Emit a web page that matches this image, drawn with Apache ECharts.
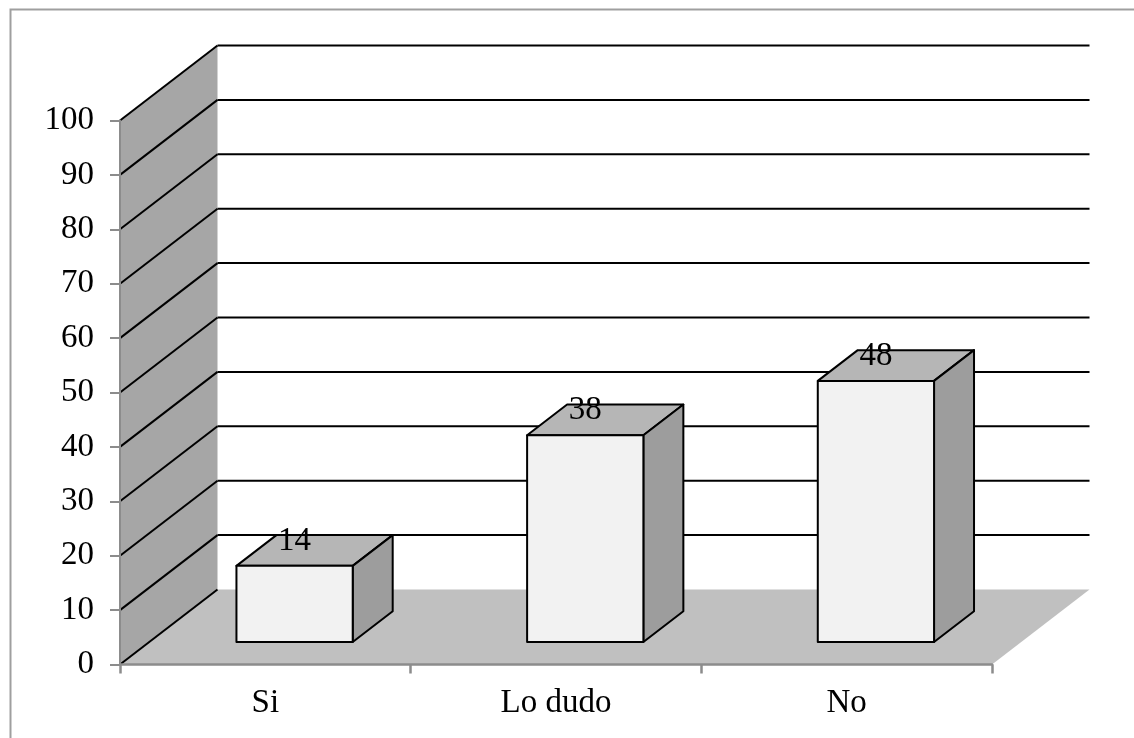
<!DOCTYPE html>
<html>
<head>
<meta charset="utf-8">
<script src="https://cdn.jsdelivr.net/npm/echarts@6/dist/echarts.min.js"></script>
<style>
  html, body { margin: 0; padding: 0; background: #ffffff; }
  #chart { width: 1134px; height: 738px; }
</style>
</head>
<body>
<div id="chart"></div>
<script>
// Survey answers and their percentages
const categories = ['Si', 'Lo dudo', 'No'];
const values = [14, 38, 48];
// Value axis range and step
const yMin = 0;
const yMax = 100;
const yStep = 10;

// Oblique projection of the depth axis (full depth of the floor)
const DEPTH_DX = 97.5;
const DEPTH_DY = -75;
const BAR_FRONT = 0.30;   // where the bar's front face sits along the depth
const BAR_DEPTH = 0.41;   // how deep each bar is
const BAR_WIDTH = 0.40;   // fraction of a category slot

const FONT = 'Liberation Serif, Times New Roman, serif';
const FONT_SIZE = 33;

const chart = echarts.init(document.getElementById('chart'), null, { renderer: 'canvas' });

function tickValues() {
  const out = [];
  for (let v = yMin; v <= yMax; v += yStep) out.push(v);
  return out;
}

// Side wall, floor and back-wall gridlines
function renderFrame(params, api) {
  const cs = params.coordSys;
  const x0 = cs.x, x1 = cs.x + cs.width;
  const yBase = api.coord([0, yMin])[1];
  const yTop = api.coord([0, yMax])[1];
  const children = [];

  // left side wall
  children.push({
    type: 'polygon',
    shape: { points: [[x0, yBase], [x0, yTop], [x0 + DEPTH_DX, yTop + DEPTH_DY], [x0 + DEPTH_DX, yBase + DEPTH_DY]] },
    style: { fill: '#a6a6a6', stroke: null }
  });
  // floor
  children.push({
    type: 'polygon',
    shape: { points: [[x0, yBase], [x1, yBase], [x1 + DEPTH_DX, yBase + DEPTH_DY], [x0 + DEPTH_DX, yBase + DEPTH_DY]] },
    style: { fill: '#c0c0c0', stroke: null }
  });
  tickValues().forEach(function (v) {
    const y = api.coord([0, v])[1];
    // diagonal on the side wall
    children.push({
      type: 'line',
      shape: { x1: x0, y1: y, x2: x0 + DEPTH_DX, y2: y + DEPTH_DY },
      style: { stroke: '#000000', lineWidth: 2 }
    });
    // gridline on the back wall
    if (v > yMin) {
      children.push({
        type: 'line',
        shape: { x1: x0 + DEPTH_DX, y1: y + DEPTH_DY, x2: x1 + DEPTH_DX, y2: y + DEPTH_DY },
        style: { stroke: '#000000', lineWidth: 2 }
      });
    }
  });
  return { type: 'group', children: children };
}

// 3D columns with value labels
function renderBar(params, api) {
  const idx = api.value(0);
  const val = api.value(1);
  const top = api.coord([idx, val]);
  const base = api.coord([idx, yMin]);
  const slot = api.size([1, 0])[0];
  const w = slot * BAR_WIDTH;
  const ox = BAR_FRONT * DEPTH_DX, oy = BAR_FRONT * DEPTH_DY;
  const ddx = BAR_DEPTH * DEPTH_DX, ddy = BAR_DEPTH * DEPTH_DY;
  const L = top[0] - w / 2 + ox, R = top[0] + w / 2 + ox;
  const T = top[1] + oy, B = base[1] + oy;
  const edge = { stroke: '#000000', lineWidth: 2, lineJoin: 'round' };
  return {
    type: 'group',
    children: [
      { type: 'polygon', shape: { points: [[L, T], [R, T], [R + ddx, T + ddy], [L + ddx, T + ddy]] },
        style: Object.assign({ fill: '#b6b6b6' }, edge) },
      { type: 'polygon', shape: { points: [[R, T], [R + ddx, T + ddy], [R + ddx, B + ddy], [R, B]] },
        style: Object.assign({ fill: '#9d9d9d' }, edge) },
      { type: 'rect', shape: { x: L, y: T, width: R - L, height: B - T },
        style: Object.assign({ fill: '#f2f2f2' }, edge) },
      { type: 'text',
        style: { text: String(val), x: (L + R) / 2, y: T - 25, fill: '#000000',
                 fontSize: FONT_SIZE, fontFamily: FONT, align: 'center', verticalAlign: 'middle' } }
    ]
  };
}

const option = {
  backgroundColor: '#ffffff',
  animation: false,
  grid: { left: 120, top: 120.5, width: 872, height: 544, containLabel: false },
  xAxis: {
    type: 'category',
    data: categories,
    boundaryGap: true,
    z: 5,
    axisLine: { show: true, lineStyle: { color: '#8c8c8c', width: 2.5 } },
    axisTick: { show: true, alignWithLabel: false, length: 9, lineStyle: { color: '#8c8c8c', width: 2.5 } },
    axisLabel: { color: '#000000', fontSize: FONT_SIZE, fontFamily: FONT, margin: 22 },
    splitLine: { show: false }
  },
  yAxis: {
    type: 'value',
    min: yMin,
    max: yMax,
    interval: yStep,
    z: 5,
    axisLine: { show: true, lineStyle: { color: '#8c8c8c', width: 2 } },
    axisTick: { show: true, length: 10, lineStyle: { color: '#8c8c8c', width: 2 } },
    axisLabel: { color: '#000000', fontSize: FONT_SIZE, fontFamily: FONT, margin: 26 },
    splitLine: { show: false }
  },
  graphic: [
    { type: 'rect', left: 8, top: 7, z: 100, silent: true,
      shape: { width: 1200, height: 800 },
      style: { fill: null, stroke: '#9f9f9f', lineWidth: 2 } }
  ],
  series: [
    {
      type: 'custom',
      name: 'frame',
      z: 1,
      clip: false,
      renderItem: renderFrame,
      data: [[0, 0]],
      silent: true
    },
    {
      type: 'custom',
      name: 'bars',
      z: 3,
      clip: false,
      renderItem: renderBar,
      data: values.map(function (v, i) { return [i, v]; })
    }
  ]
};

chart.setOption(option);
</script>
</body>
</html>
